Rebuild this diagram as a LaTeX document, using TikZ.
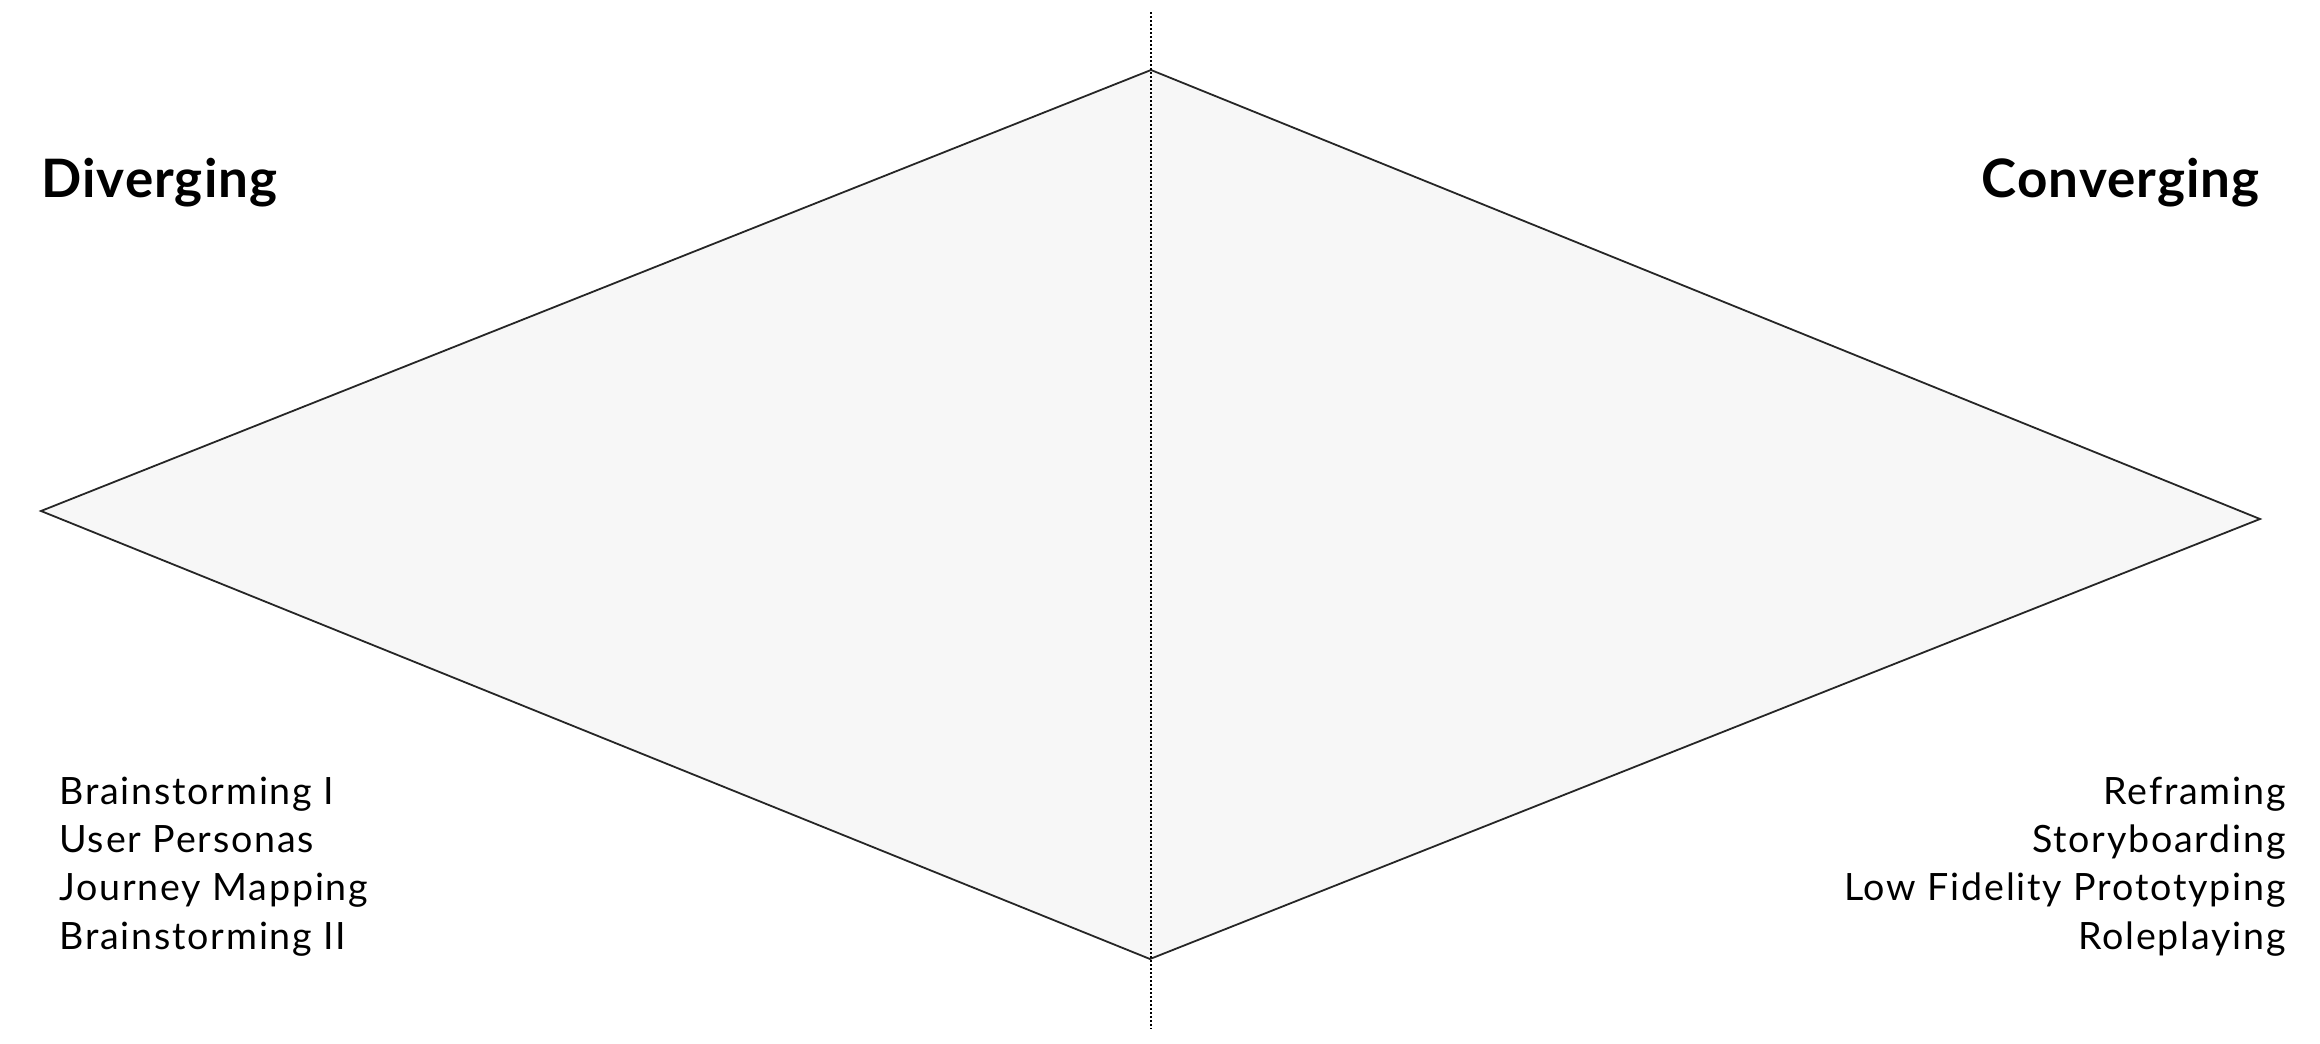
\documentclass[tikz,border=0pt]{standalone}
\usepackage{fontspec}
\setmainfont{Lato}
\newfontfamily\headfont[LetterSpace=2.0]{Lato}
\newfontfamily\itemfont[LetterSpace=4.8]{Lato}
\begin{document}
\begin{tikzpicture}[x=0.5pt,y=-0.5pt,
  diamondpath/.style={draw=black!85,line width=0.9pt,fill=black!3,line join=miter},
  axisline/.style={draw=black,line width=0.8pt,dash pattern=on 0.8pt off 1.2pt},
  heading/.style={inner sep=0pt,font=\headfont\fontsize{26.5}{30}\selectfont\bfseries},
  item/.style={inner sep=0pt,font=\itemfont\fontsize{18.8}{24}\selectfont}]
\useasboundingbox (0,0) rectangle (2320,1044);
\coordinate (L) at (41,511);
\coordinate (T) at (1151,70);
\coordinate (R) at (2260,519);
\coordinate (B) at (1150,959);
\coordinate (axtop) at (1151,12);
\coordinate (axbot) at (1151,1029);
\path[diamondpath] (L) -- (T) -- (R) -- (B) -- cycle;
\draw[axisline] (axtop) -- (axbot);
\node[heading,anchor=base west] (div) at (41,197) {Diverging};
\node[heading,anchor=base east] (conv) at (2260,197) {Converging};
\node[item,anchor=base west] (l1) at (59,804) {Brainstorming I};
\node[item,anchor=base west] (l2) at (59,852) {User Personas};
\node[item,anchor=base west] (l3) at (59,900.5) {Journey Mapping};
\node[item,anchor=base west] (l4) at (59,949) {Brainstorming II};
\node[item,anchor=base east] (r1) at (2286,804) {Reframing};
\node[item,anchor=base east] (r2) at (2286,852) {Storyboarding};
\node[item,anchor=base east] (r3) at (2286,900.5) {Low Fidelity Prototyping};
\node[item,anchor=base east] (r4) at (2286,949) {Roleplaying};
\end{tikzpicture}
\end{document}
